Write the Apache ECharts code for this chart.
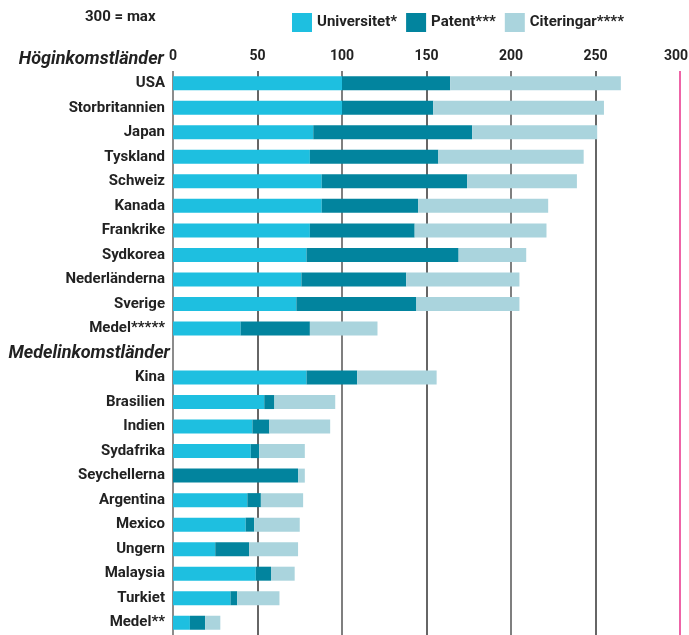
<!DOCTYPE html>
<html style="height: 100%">
<head>
	<meta charset="utf-8">
</head>
<body style="height: 100%; margin: 0">
<div id="container" style="width: 689px; height: 635px"></div>
<script type="text/javascript" src="https://cdn.jsdelivr.net/npm/echarts@6/dist/echarts.min.js"></script>
<script type="text/javascript">
    var dom = document.getElementById("container");
    var myChart = echarts.init(dom);

    var FONT = 'Roboto, "Liberation Sans", sans-serif';

    // kategorier (rad "Medelinkomstländer" är en rubrik utan staplar)
    var categories = ['USA', 'Storbritannien', 'Japan', 'Tyskland', 'Schweiz', 'Kanada',
        'Frankrike', 'Sydkorea', 'Nederländerna', 'Sverige', 'Medel*****',
        'Medelinkomstländer',
        'Kina', 'Brasilien', 'Indien', 'Sydafrika', 'Seychellerna', 'Argentina',
        'Mexico', 'Ungern', 'Malaysia', 'Turkiet', 'Medel**'];
    var headerRow = 'Medelinkomstländer';

    var universitet = [100, 100, 83, 81, 88, 88, 81, 79, 76, 73, 40, '-',
        79, 54, 47, 46, 0, 44, 43, 25, 49, 34, 10];
    var patent = [64, 54, 94, 76, 86, 57, 62, 90, 62, 71, 41, '-',
        30, 6, 10, 5, 74, 8, 5, 20, 9, 4, 9];
    var citeringar = [101, 101, 74, 86, 65, 77, 78, 40, 67, 61, 40, '-',
        47, 36, 36, 27, 4, 25, 27, 29, 14, 25, 9];

    var xTicks = [0, 50, 100, 150, 200, 250, 300];

    var option = {
        backgroundColor: '#fff',
        animation: false,
        textStyle: {fontFamily: FONT},
        legend: {
            left: 287,
            top: 8,
            itemWidth: 20,
            itemHeight: 19,
            itemGap: 9,
            icon: 'rect',
            textStyle: {fontFamily: FONT, fontSize: 15, fontWeight: 'bold', color: '#222'},
            data: ['Universitet*', 'Patent***', 'Citeringar****']
        },
        graphic: [
            {
                type: 'text',
                left: 85,
                top: 10,
                style: {text: '300 = max', font: 'bold 15px ' + FONT, fill: '#222'}
            },
            {
                type: 'text',
                right: 689 - 164,
                top: 50,
                style: {text: 'Höginkomstländer', font: 'italic bold 18px ' + FONT, fill: '#222'}
            }
        ],
        grid: {
            left: 173,
            right: 9,
            top: 71,
            bottom: 0,
            containLabel: false,
            outerBoundsMode: 'none'
        },
        xAxis: {
            type: 'value',
            position: 'top',
            min: 0,
            max: 300,
            interval: 50,
            axisLine: {show: false},
            axisTick: {show: false},
            axisLabel: {
                fontFamily: FONT, fontSize: 14, fontWeight: 'bold', color: '#222', margin: 8,
                formatter: function (v) {
                    if (xTicks.indexOf(v) < 0) return '';
                    return v === 300 ? '{r|300}' : String(v);
                },
                rich: {
                    r: {fontFamily: FONT, fontSize: 14, fontWeight: 'bold', color: '#222', padding: [0, 8, 0, 0]}
                }
            },
            splitLine: {
                show: true,
                showMinLine: true,
                showMaxLine: true,
                lineStyle: {
                    color: ['#666', '#333', '#555', '#333', '#555', '#333', '#e8308a'],
                    width: 1.5
                }
            }
        },
        yAxis: {
            type: 'category',
            inverse: true,
            data: categories,
            axisLine: {show: false},
            axisTick: {show: false},
            axisLabel: {
                margin: 8,
                fontFamily: FONT,
                fontSize: 15,
                fontWeight: 'bold',
                color: '#222',
                formatter: function (v) {
                    return v === headerRow ? '{h|' + v + '}' : v;
                },
                rich: {
                    h: {fontFamily: FONT, fontSize: 18, fontWeight: 'bold', fontStyle: 'italic', color: '#222', padding: [0, -5, 0, 0]}
                }
            }
        },
        series: [
            {
                name: 'Universitet*',
                type: 'bar',
                stack: 'total',
                barWidth: 14,
                itemStyle: {color: '#1ebfe0'},
                data: universitet
            },
            {
                name: 'Patent***',
                type: 'bar',
                stack: 'total',
                barWidth: 14,
                itemStyle: {color: '#02849e'},
                data: patent
            },
            {
                name: 'Citeringar****',
                type: 'bar',
                stack: 'total',
                barWidth: 14,
                itemStyle: {color: '#aad4dd'},
                data: citeringar
            }
        ]
    };

    myChart.setOption(option);

    window.addEventListener('resize', function () {
        myChart.resize();
    });
</script>
</body>
</html>
